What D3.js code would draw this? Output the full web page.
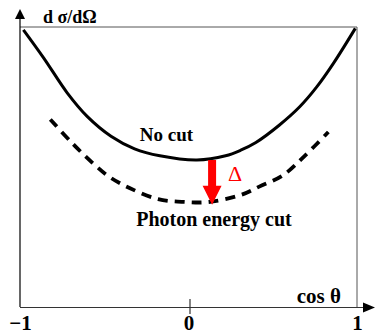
<!DOCTYPE html>
<html>
<head>
<meta charset="utf-8">
<script src="https://cdn.jsdelivr.net/npm/d3@7/dist/d3.min.js"></script>
<style>
  html, body { margin: 0; padding: 0; background: #fff; }
  svg { display: block; }
</style>
</head>
<body>
<svg id="chart" width="375" height="334"></svg>
<script>
// Angular distribution, arbitrary units, without and with a photon energy cut
const cosTheta   = [-0.98, -0.86, -0.72, -0.60, -0.46, -0.32, -0.17, 0.05, 0.22, 0.31, 0.40, 0.54, 0.66, 0.76, 0.86, 0.99];
const noCut      = [ 1.98,  1.78,  1.53,  1.36,  1.22,  1.13,  1.08, 1.05, 1.08, 1.12, 1.175, 1.30, 1.43, 1.57, 1.74, 1.99];
const cosThetaCut = [-0.82, -0.69, -0.57, -0.47, -0.35, -0.18, -0.02, 0.12, 0.31, 0.42, 0.56, 0.69, 0.83];
const photonCut   = [ 1.34,  1.17,  1.03,  0.93,  0.85,  0.77,  0.75, 0.75, 0.80, 0.86, 0.94, 1.08, 1.25];
const xTicks = [-1, 0, 1];
// Shift between the two curves, marked with an arrow
const deltaAt = 0.14;
const deltaFrom = 1.05;
const deltaTo = 0.73;

const SERIF = '"Liberation Serif", "Times New Roman", Times, "DejaVu Serif", serif';

const svg = d3.select("#chart");
const plotLeft = 20, plotRight = 357, plotTop = 27, plotBottom = 307;

const x = d3.scaleLinear().domain([-1, 1]).range([plotLeft, plotRight]);
const y = d3.scaleLinear().domain([0, 2]).range([plotBottom, plotTop]);

function label(px, py, str, size, opts = {}) {
  return svg.append("text")
    .attr("x", px).attr("y", py)
    .attr("text-anchor", opts.anchor || "middle")
    .attr("fill", opts.fill || "#000")
    .style("font-family", SERIF)
    .style("font-weight", opts.weight || "bold")
    .style("font-size", size + "px")
    .text(str);
}

// frame (top and right edges)
svg.append("path")
  .attr("d", `M${plotLeft},${plotTop}H${plotRight}V${plotBottom}`)
  .attr("fill", "none").attr("stroke", "#555").attr("stroke-width", 1);

// x axis with labels at -1, 0, 1
const xAxis = d3.axisBottom(x).tickValues(xTicks).tickSize(0).tickPadding(8).tickFormat(d3.format("d"));
const gx = svg.append("g").attr("transform", `translate(0,${plotBottom})`).call(xAxis);
gx.select(".domain").remove();
gx.selectAll("text")
  .style("font-family", SERIF).style("font-weight", "bold")
  .style("font-size", "21px").attr("fill", "#000");

svg.append("line")
  .attr("x1", plotLeft).attr("x2", 364).attr("y1", plotBottom + 0.5).attr("y2", plotBottom + 0.5)
  .attr("stroke", "#333").attr("stroke-width", 1.2);
svg.append("path")
  .attr("d", `M375,${plotBottom + 0.5}L363,${plotBottom - 4.5}L363,${plotBottom + 5.5}Z`)
  .attr("fill", "#000");
svg.append("line")
  .attr("x1", x(0) + 1.5).attr("x2", x(0) + 1.5).attr("y1", plotBottom - 8).attr("y2", plotBottom + 7)
  .attr("stroke", "#333").attr("stroke-width", 1.2);

// y axis
svg.append("line")
  .attr("x1", plotLeft).attr("x2", plotLeft).attr("y1", 18).attr("y2", plotBottom)
  .attr("stroke", "#000").attr("stroke-width", 1.2);
svg.append("path")
  .attr("d", `M${plotLeft},9L${plotLeft - 5},19L${plotLeft + 5},19Z`)
  .attr("fill", "#000");

// axis titles
label(43, 23, "d σ/dΩ", 18, { anchor: "start" });
label(341, 303, "cos θ", 21, { anchor: "end" });

const line = d3.line().x(d => x(d[0])).y(d => y(d[1])).curve(d3.curveCatmullRom.alpha(0.5));

svg.append("path")
  .datum(d3.zip(cosTheta, noCut))
  .attr("d", line)
  .attr("fill", "none").attr("stroke", "#000").attr("stroke-width", 3);

svg.append("path")
  .datum(d3.zip(cosThetaCut, photonCut))
  .attr("d", line)
  .attr("fill", "none").attr("stroke", "#000").attr("stroke-width", 3.8)
  .attr("stroke-dasharray", "10,7");

// red arrow showing the drop
const ax = x(deltaAt), ay0 = y(deltaFrom), ay1 = y(deltaTo);
const headLen = 19, shaftW = 8, headW = 19;
svg.append("path")
  .attr("d", `M${ax - shaftW / 2},${ay0}V${ay1 - headLen}H${ax - headW / 2}L${ax},${ay1}L${ax + headW / 2},${ay1 - headLen}H${ax + shaftW / 2}V${ay0}Z`)
  .attr("fill", "#f00");

label(235, 181, "Δ", 22, { weight: "normal", fill: "#f00" });
label(166.5, 141, "No cut", 19);
label(214, 226, "Photon energy cut", 20);
</script>
</body>
</html>
